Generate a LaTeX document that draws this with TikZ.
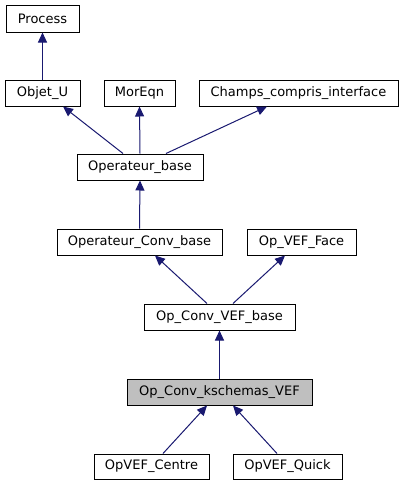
\documentclass[tikz,border=0pt]{standalone}
\usepackage{fontspec}
\setmainfont{DejaVu Sans}
\usetikzlibrary{arrows.meta}
\definecolor{edgeblue}{HTML}{191970}
\definecolor{curgray}{HTML}{BFBFBF}
\tikzset{
  cls/.style={draw=black, fill=white, line width=1pt, minimum height=26pt, inner sep=0pt, font=\fontsize{13}{15}\selectfont, anchor=center},
  edge/.style={draw=edgeblue, line width=1pt, -{Triangle[length=10pt,width=9pt]}}
}
\begin{document}
\begin{tikzpicture}[x=1pt,y=-1pt]
\useasboundingbox (0,0) rectangle (403,485);
\node[cls, minimum width=73pt, minimum height=27pt] (process) at (42.5,18.5) {Process};
\node[cls, minimum width=75pt] (objetu) at (42.5,93) {Objet\_U};
\node[cls, minimum width=71pt] (moreqn) at (139.5,93) {MorEqn};
\node[cls, minimum width=199pt] (champs) at (298.5,93) {Champs\_compris\_interface};
\node[cls, minimum width=126pt] (opbase) at (140,167) {Operateur\_base};
\node[cls, minimum width=165pt] (opconvbase) at (139.5,242) {Operateur\_Conv\_base};
\node[cls, minimum width=109pt] (opveface) at (301.5,242) {Op\_VEF\_Face};
\node[cls, minimum width=151pt] (opconvvef) at (219.5,317) {Op\_Conv\_VEF\_base};
\node[cls, minimum width=185pt, fill=curgray] (kschemas) at (219.5,392) {Op\_Conv\_kschemas\_VEF};
\node[cls, minimum width=115pt, minimum height=25pt] (centre) at (151.5,466.5) {OpVEF\_Centre};
\node[cls, minimum width=109pt, minimum height=25pt] (quick) at (287.5,466.5) {OpVEF\_Quick};

\draw[edge] (objetu.north) -- (process.south);
\draw[edge] ([xshift=-17pt]opbase.north) -- ([xshift=20.5pt]objetu.south);
\draw[edge] (opbase.north) -- (moreqn.south);
\draw[edge] ([xshift=26pt]opbase.north) -- ([xshift=-31.5pt]champs.south);
\draw[edge] (opconvbase.north) -- (opbase.south);
\draw[edge] ([xshift=-12.5pt]opconvvef.north) -- ([xshift=15.5pt]opconvbase.south);
\draw[edge] ([xshift=13.5pt]opconvvef.north) -- ([xshift=-16.5pt]opveface.south);
\draw[edge] (kschemas.north) -- (opconvvef.south);
\draw[edge] ([xshift=11.5pt]centre.north) -- ([xshift=-12.5pt]kschemas.south);
\draw[edge] ([xshift=-10.5pt]quick.north) -- ([xshift=13.5pt]kschemas.south);
\end{tikzpicture}
\end{document}
